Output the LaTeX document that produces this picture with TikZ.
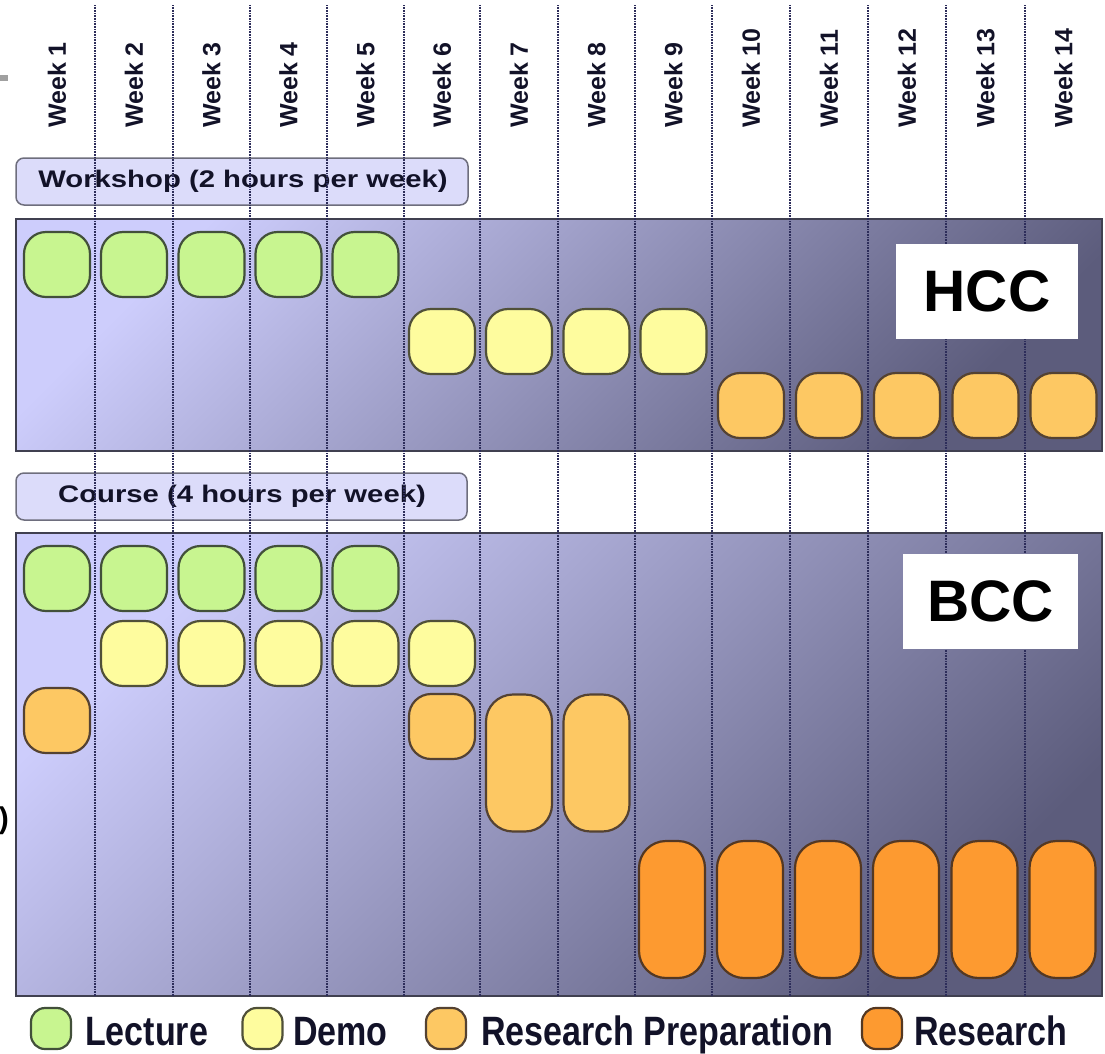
\documentclass[tikz,border=0pt]{standalone}
\usepackage{fontspec}
\setmainfont{Liberation Sans}

\definecolor{panelhi}{RGB}{205,205,252}
\definecolor{panello}{RGB}{92,92,124}
\definecolor{tagfill}{RGB}{220,220,250}
\definecolor{gridline}{RGB}{45,45,90}
\definecolor{inkdark}{RGB}{18,18,40}
\definecolor{lectfill}{RGB}{200,245,144}
\definecolor{demofill}{RGB}{254,252,158}
\definecolor{prepfill}{RGB}{253,200,99}
\definecolor{resfill}{RGB}{253,154,48}

\begin{document}
\begin{tikzpicture}[x=1pt,y=1pt,yscale=-1,xscale=1,
  panel/.style={draw={rgb,255:red,64;green,64;blue,80},line width=2,top color=panelhi,bottom color=panello,shading angle=45},
  tag/.style={draw={rgb,255:red,110;green,110;blue,125},line width=1.5,fill=tagfill,rounded corners=8},
  grid/.style={color=gridline,line width=1.3,dash pattern=on 1pt off 0.6pt},
  slot/.style={draw,line width=2.2,minimum width=66,minimum height=65,rounded corners=22,inner sep=0},
  lect/.style={slot,fill=lectfill,draw={rgb,255:red,66;green,80;blue,58}},
  demo/.style={slot,fill=demofill,draw={rgb,255:red,80;green,80;blue,56}},
  prep/.style={slot,fill=prepfill,draw={rgb,255:red,84;green,66;blue,50}},
  res/.style={slot,fill=resfill,draw={rgb,255:red,84;green,56;blue,34}},
  tall/.style={minimum height=137,rounded corners=27},
  key/.style={minimum width=40,minimum height=41,rounded corners=14},
  weeklbl/.style={rotate=90,anchor=west,inner sep=0,text=inkdark,font=\fontsize{25}{30}\selectfont\bfseries},
  taglbl/.style={inner sep=0,text=inkdark,font=\fontsize{24}{28}\selectfont\bfseries},
  keylbl/.style={anchor=base west,inner sep=0,text=inkdark,font=\fontsize{41}{44}\selectfont\bfseries},
  sitebox/.style={fill=white,inner sep=0,minimum height=95,font=\fontsize{58.5}{62}\selectfont\bfseries}
]
\useasboundingbox (0,0) rectangle (1105,1053);

%Shape: Rectangle (cut-off mark)
\fill [color={rgb,255:red,160;green,160;blue,160}] (0,75) rectangle (8,81);
% Text Node (cut-off bracket)
\node [anchor=east,inner sep=0,font=\fontsize{30}{32}\selectfont\bfseries] (cut) at (9,821) {)};

%Shape: Panels
\draw [panel] (16,219) rectangle (1102,451);
\draw [panel] (16,533) rectangle (1102,996);

%Shape: Tags
\draw [tag] (16,158) rectangle (468,205);
\draw [tag] (16,473) rectangle (467,520);
\node [taglbl] (wstag) at (243,181.5) {\scalebox{1.22}[1]{Workshop (2 hours per week)}};
\node [taglbl] (cstag) at (242,496.5) {\scalebox{1.22}[1]{Course (4 hours per week)}};

%Straight Lines (week dividers)
\draw [grid] (95,5) -- (95,996);
\draw [grid] (173,5) -- (173,996);
\draw [grid] (250,5) -- (250,996);
\draw [grid] (327,5) -- (327,996);
\draw [grid] (404,5) -- (404,996);
\draw [grid] (480,5) -- (480,996);
\draw [grid] (558,5) -- (558,996);
\draw [grid] (635,5) -- (635,996);
\draw [grid] (712,5) -- (712,996);
\draw [grid] (790,5) -- (790,996);
\draw [grid] (868,5) -- (868,996);
\draw [grid] (946,5) -- (946,996);
\draw [grid] (1025,5) -- (1025,996);

% Text Node (week headers)
\node [weeklbl] (w1) at (57,128) {Week 1};
\node [weeklbl] (w2) at (134,128) {Week 2};
\node [weeklbl] (w3) at (211.5,128) {Week 3};
\node [weeklbl] (w4) at (288.5,128) {Week 4};
\node [weeklbl] (w5) at (365.5,128) {Week 5};
\node [weeklbl] (w6) at (442,128) {Week 6};
\node [weeklbl] (w7) at (519,128) {Week 7};
\node [weeklbl] (w8) at (596.5,128) {Week 8};
\node [weeklbl] (w9) at (673.5,128) {Week 9};
\node [weeklbl] (w10) at (751,128) {Week 10};
\node [weeklbl] (w11) at (829,128) {Week 11};
\node [weeklbl] (w12) at (907,128) {Week 12};
\node [weeklbl] (w13) at (985.5,128) {Week 13};
\node [weeklbl] (w14) at (1063.5,128) {Week 14};

%Shape: HCC sessions
\node [lect] (hl1) at (57,264.5) {};
\node [lect] (hl2) at (134,264.5) {};
\node [lect] (hl3) at (211.5,264.5) {};
\node [lect] (hl4) at (288.5,264.5) {};
\node [lect] (hl5) at (365.5,264.5) {};
\node [demo] (hd6) at (442,341.5) {};
\node [demo] (hd7) at (519,341.5) {};
\node [demo] (hd8) at (596.5,341.5) {};
\node [demo] (hd9) at (673.5,341.5) {};
\node [prep] (hp10) at (751,405.5) {};
\node [prep] (hp11) at (829,405.5) {};
\node [prep] (hp12) at (907,405.5) {};
\node [prep] (hp13) at (985.5,405.5) {};
\node [prep] (hp14) at (1063.5,405.5) {};

%Shape: BCC sessions
\node [lect] (bl1) at (57,578.5) {};
\node [lect] (bl2) at (134,578.5) {};
\node [lect] (bl3) at (211.5,578.5) {};
\node [lect] (bl4) at (288.5,578.5) {};
\node [lect] (bl5) at (365.5,578.5) {};
\node [demo] (bd2) at (134,653.5) {};
\node [demo] (bd3) at (211.5,653.5) {};
\node [demo] (bd4) at (288.5,653.5) {};
\node [demo] (bd5) at (365.5,653.5) {};
\node [demo] (bd6) at (442,653.5) {};
\node [prep] (bp1) at (57,720.5) {};
\node [prep] (bp6) at (442,726.5) {};
\node [prep,tall] (bp7) at (519,763) {};
\node [prep,tall] (bp8) at (596.5,763) {};
\node [res,tall] (br9) at (672,909.5) {};
\node [res,tall] (br10) at (750,909.5) {};
\node [res,tall] (br11) at (828,909.5) {};
\node [res,tall] (br12) at (906,909.5) {};
\node [res,tall] (br13) at (984.5,909.5) {};
\node [res,tall] (br14) at (1062.5,909.5) {};

% Text Node (sites)
\node [sitebox,minimum width=182] (hcc) at (987,291.5) {HCC};
\node [sitebox,minimum width=175] (bcc) at (990.5,601.5) {BCC};

%Shape: Legend keys
\node [lect,key] (kl) at (51,1028.5) {};
\node [demo,key] (kd) at (262.5,1028.5) {};
\node [prep,key] (kp) at (446,1028.5) {};
\node [res,key] (kr) at (882,1028.5) {};
% Text Node (legend)
\node [keylbl] (tl) at (85,1045) {\scalebox{0.83}[1]{Lecture}};
\node [keylbl] (td) at (293,1045) {\scalebox{0.83}[1]{Demo}};
\node [keylbl] (tp) at (481,1045) {\scalebox{0.83}[1]{Research Preparation}};
\node [keylbl] (tr) at (914,1045) {\scalebox{0.83}[1]{Research}};

\end{tikzpicture}
\end{document}
